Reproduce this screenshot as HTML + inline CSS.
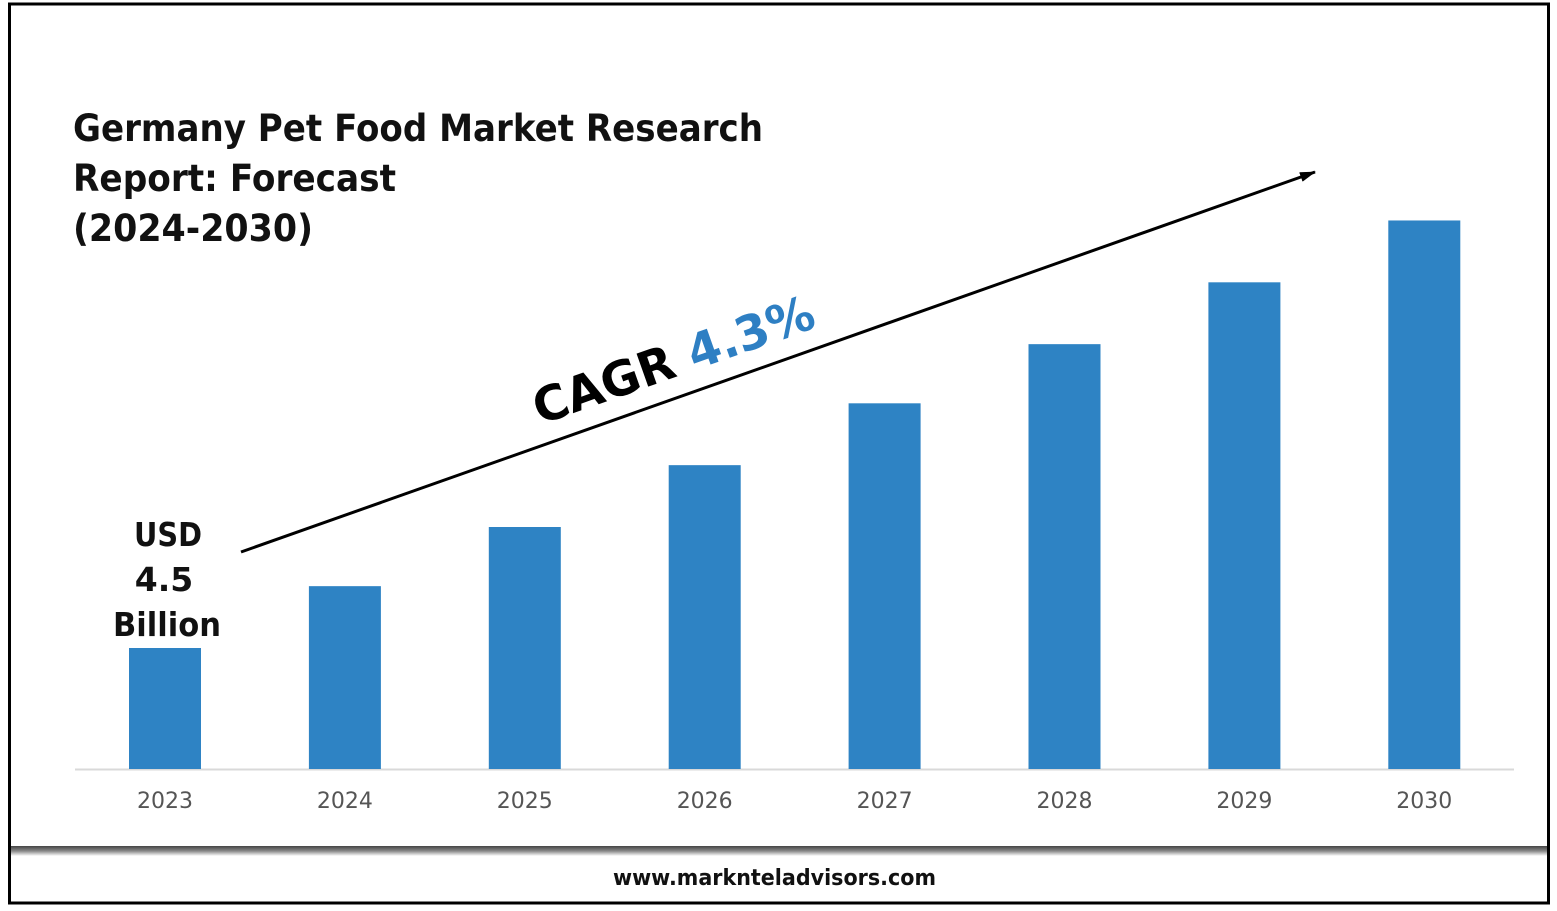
<!DOCTYPE html>
<html><head><meta charset="utf-8"><style>
body{margin:0;width:1557px;height:907px;background:#fff;overflow:hidden;font-family:"DejaVu Sans","Liberation Sans",sans-serif}
</style></head><body>
<svg width="1557" height="907" viewBox="0 0 1557 907">
<defs><linearGradient id="dg" x1="0" y1="0" x2="0" y2="1"><stop offset="0" stop-color="#444"/><stop offset="0.5" stop-color="#888"/><stop offset="1" stop-color="#fff"/></linearGradient>
<marker id="ah" markerUnits="userSpaceOnUse" markerWidth="16" markerHeight="10" refX="15" refY="5" orient="auto"><path d="M0,0 L16,5 L0,10 z" fill="#000"/></marker></defs>
<rect x="9.5" y="4" width="1539" height="899" fill="none" stroke="#000" stroke-width="3"/>
<rect x="11" y="846" width="1536" height="10" fill="url(#dg)"/>
<text x="613" y="885" textLength="323" lengthAdjust="spacingAndGlyphs" font-size="22" font-weight="bold" fill="#111">www.marknteladvisors.com</text>
<g font-size="37" font-weight="bold" fill="#111">
<text x="73" y="141" textLength="690" lengthAdjust="spacingAndGlyphs">Germany Pet Food Market Research</text>
<text x="73" y="191" textLength="323" lengthAdjust="spacingAndGlyphs">Report: Forecast</text>
<text x="73" y="241" textLength="240" lengthAdjust="spacingAndGlyphs">(2024-2030)</text></g>
<line x1="75" y1="769.5" x2="1514" y2="769.5" stroke="#d9d9d9" stroke-width="2"/>
<g id="bars"></g><g id="labels" font-size="22" fill="#555" text-anchor="middle"></g>
<line x1="241" y1="552" x2="1315" y2="172" stroke="#000" stroke-width="3" marker-end="url(#ah)"/>
<text transform="translate(540,425) rotate(-19.5)" font-size="48" font-weight="bold" fill="#000" textLength="295" lengthAdjust="spacingAndGlyphs">CAGR <tspan fill="#2e7fc3">4.3%</tspan></text>
<g font-size="33" font-weight="bold" fill="#111" text-anchor="middle">
<text x="168" y="546" textLength="68" lengthAdjust="spacingAndGlyphs">USD</text><text x="164" y="591">4.5</text><text x="167" y="636" textLength="108" lengthAdjust="spacingAndGlyphs">Billion</text></g>
</svg>
<script>
const categories=["2023","2024","2025","2026","2027","2028","2029","2030"];
const values=[4.5,6.8,9.0,11.3,13.6,15.8,18.1,20.4];
const base=769, pxPerUnit=121/4.5, x0=129, step=179.9, bw=72;
const ns="http://www.w3.org/2000/svg";
const yScale=v=>base-v*pxPerUnit;
const bg=document.getElementById('bars'), lg=document.getElementById('labels');
categories.forEach((c,i)=>{
 const r=document.createElementNS(ns,'rect');
 r.setAttribute('x',x0+i*step);r.setAttribute('y',yScale(values[i]));
 r.setAttribute('width',bw);r.setAttribute('height',base-yScale(values[i]));
 r.setAttribute('fill','#2e83c4');
 
 
 bg.appendChild(r);
 const t=document.createElementNS(ns,'text');
 t.setAttribute('x',x0+i*step+bw/2);t.setAttribute('y',808);t.textContent=c;
 
 
 lg.appendChild(t);
});
</script>
</body></html>
